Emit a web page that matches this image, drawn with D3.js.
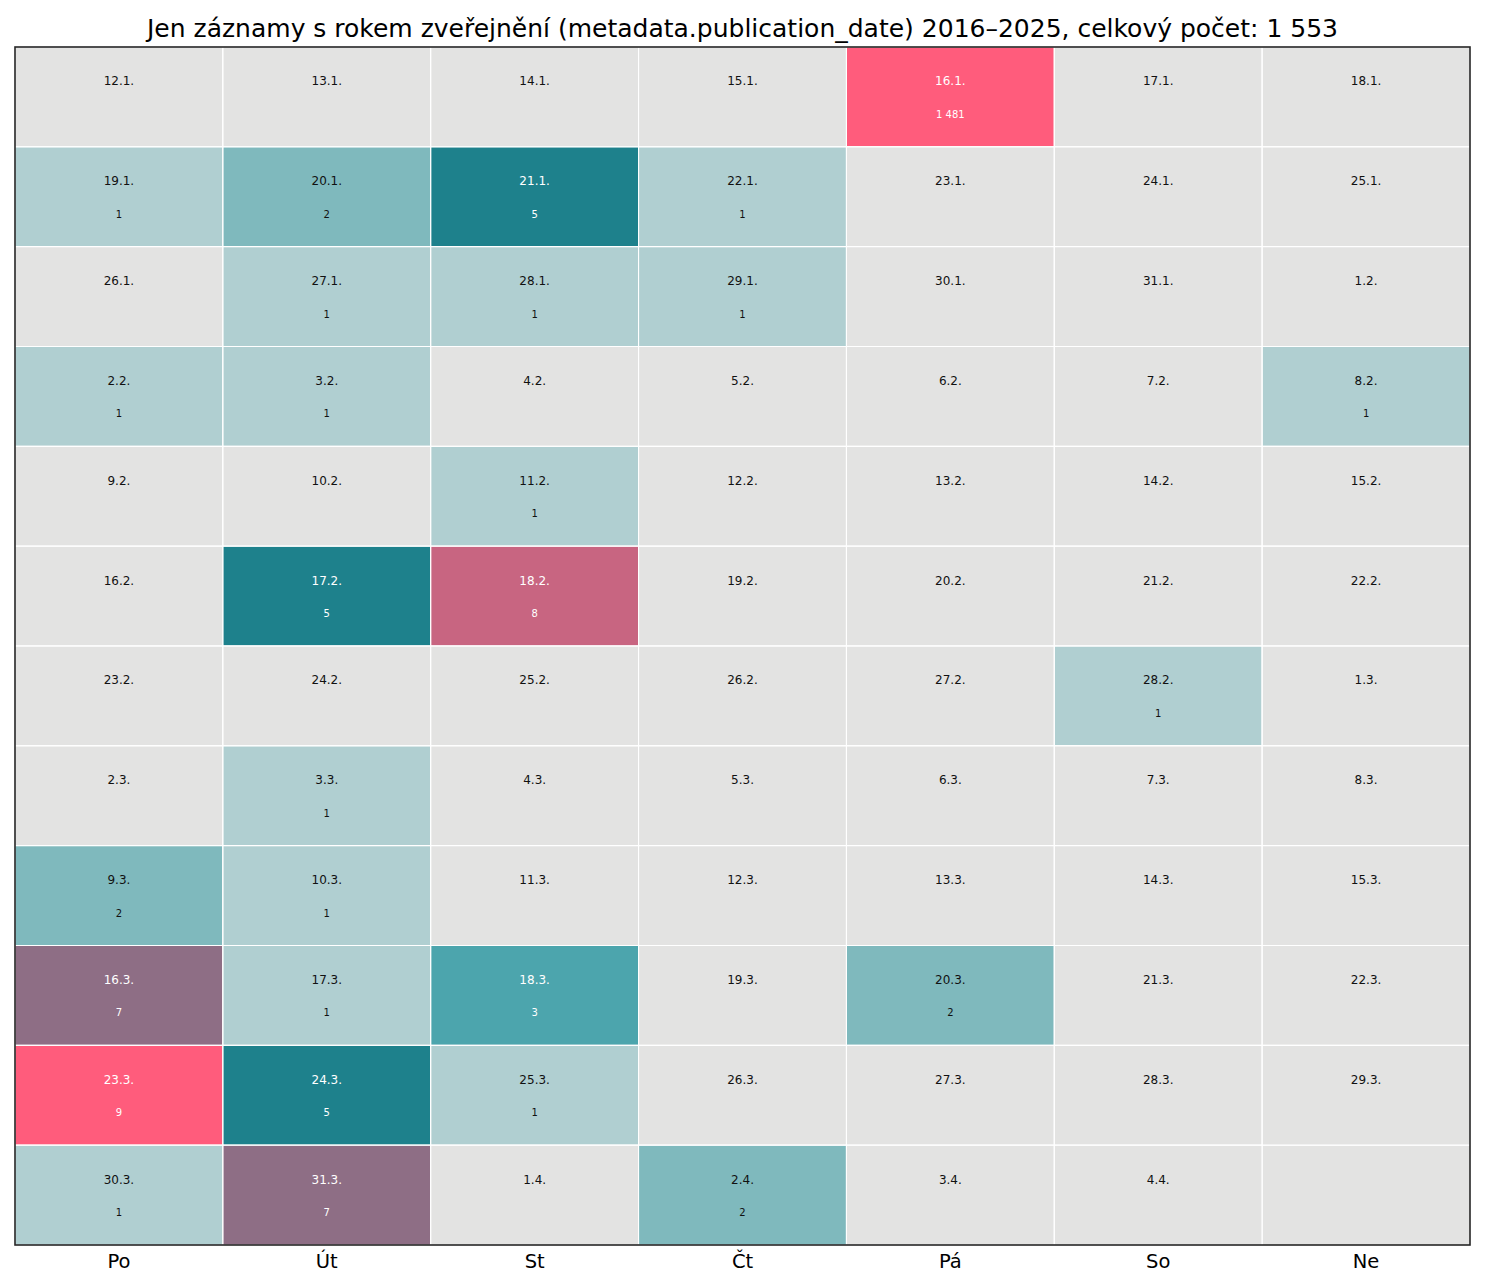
<!DOCTYPE html>
<html>
<head>
<meta charset="utf-8">
<script src="https://cdn.jsdelivr.net/npm/d3@7"></script>
<style>
  body { margin: 0; background: #fff; }
  text { font-family: "DejaVu Sans", sans-serif; }
</style>
</head>
<body>
<div id="chart"></div>
<script>
const weekdays = ["Po", "Út", "St", "Čt", "Pá", "So", "Ne"];
const startDate = new Date(2026, 0, 12); // Monday 12.1.
// counts per day, from 12.1. to 4.4.
const counts = [
  0, 0, 0, 0, 1481, 0, 0,
  1, 2, 5, 1, 0, 0, 0,
  0, 1, 1, 1, 0, 0, 0,
  1, 1, 0, 0, 0, 0, 1,
  0, 0, 1, 0, 0, 0, 0,
  0, 5, 8, 0, 0, 0, 0,
  0, 0, 0, 0, 0, 1, 0,
  0, 1, 0, 0, 0, 0, 0,
  2, 1, 0, 0, 0, 0, 0,
  7, 1, 3, 0, 2, 0, 0,
  9, 5, 1, 0, 0, 0, 0,
  1, 7, 0, 2, 0, 0
];
const colorStops = [1, 2, 3, 5, 7, 8, 9];
const colorValues = ["#b0cfd1", "#7fb9bd", "#4ca5ad", "#1e818c", "#8e6e85", "#c86581", "#ff5c7c"];
const emptyColor = "#e3e3e2";
const title = "Jen záznamy s rokem zveřejnění (metadata.publication_date) 2016–2025, celkový počet: 1 553";

const width = 1485, height = 1287;
const margin = { top: 47, right: 15, bottom: 42, left: 15 };
const nWeeks = Math.ceil(counts.length / 7);

const svg = d3.select("#chart").append("svg")
  .attr("width", width)
  .attr("height", height);

const x = d3.scaleBand().domain(weekdays)
  .range([margin.left, width - margin.right]);
const y = d3.scaleBand().domain(d3.range(nWeeks))
  .range([margin.top, height - margin.bottom]);
const color = d3.scaleLinear().domain(colorStops).range(colorValues).clamp(true);

const fmtNum = n => d3.format(",")(n).replace(/,/g, " ");

const days = counts.map((c, i) => {
  const date = d3.timeDay.offset(startDate, i);
  return {
    count: c,
    label: `${date.getDate()}.${date.getMonth() + 1}.`,
    col: weekdays[i % 7],
    row: Math.floor(i / 7)
  };
});

// background (covers unused cells)
svg.append("rect")
  .attr("x", margin.left).attr("y", margin.top)
  .attr("width", width - margin.left - margin.right)
  .attr("height", height - margin.top - margin.bottom)
  .attr("fill", emptyColor);

const g = svg.append("g");
g.selectAll("rect.cell")
  .data(days)
  .enter()
  .append("rect")
  .attr("class", "cell")
  .attr("x", d => x(d.col))
  .attr("y", d => y(d.row))
  .attr("width", x.bandwidth())
  .attr("height", y.bandwidth())
  .attr("fill", d => d.count > 0 ? color(d.count) : emptyColor)
  .attr("stroke", "#fff")
  .attr("stroke-width", 1);

// white grid lines
g.selectAll("line.vgrid")
  .data(weekdays.slice(1))
  .enter()
  .append("line")
  .attr("x1", d => x(d)).attr("x2", d => x(d))
  .attr("y1", margin.top).attr("y2", height - margin.bottom)
  .attr("stroke", "#fff").attr("stroke-width", 1);
g.selectAll("line.hgrid")
  .data(d3.range(1, nWeeks))
  .enter()
  .append("line")
  .attr("x1", margin.left).attr("x2", width - margin.right)
  .attr("y1", d => y(d)).attr("y2", d => y(d))
  .attr("stroke", "#fff").attr("stroke-width", 1);

const textColor = d => d.count >= 3 ? "#ffffff" : "#111111";

g.selectAll("text.day")
  .data(days)
  .enter()
  .append("text")
  .attr("x", d => x(d.col) + x.bandwidth() / 2)
  .attr("y", d => y(d.row) + y.bandwidth() * 0.35)
  .attr("text-anchor", "middle")
  .attr("dominant-baseline", "middle")
  .attr("font-size", "12px")
  .attr("fill", textColor)
  .text(d => d.label);

g.selectAll("text.count")
  .data(days.filter(d => d.count > 0))
  .enter()
  .append("text")
  .attr("x", d => x(d.col) + x.bandwidth() / 2)
  .attr("y", d => y(d.row) + y.bandwidth() * 0.68)
  .attr("text-anchor", "middle")
  .attr("dominant-baseline", "middle")
  .attr("font-size", "10px")
  .attr("fill", textColor)
  .text(d => fmtNum(d.count));

// frame
svg.append("rect")
  .attr("x", margin.left).attr("y", margin.top)
  .attr("width", width - margin.left - margin.right)
  .attr("height", height - margin.top - margin.bottom)
  .attr("fill", "none")
  .attr("stroke", "#262626")
  .attr("stroke-width", 1.6);

// x axis labels
const xAxis = d3.axisBottom(x).tickSize(0).tickPadding(9);
svg.append("g")
  .attr("transform", `translate(0, ${height - margin.bottom})`)
  .call(xAxis)
  .call(a => a.select(".domain").remove())
  .selectAll("text")
  .attr("font-size", "19.5px")
  .attr("font-family", "DejaVu Sans, sans-serif")
  .attr("fill", "#000");

svg.append("text")
  .attr("x", width / 2)
  .attr("y", 37)
  .attr("text-anchor", "middle")
  .attr("font-size", "25px")
  .attr("fill", "#000")
  .text(title);
</script>
</body>
</html>
